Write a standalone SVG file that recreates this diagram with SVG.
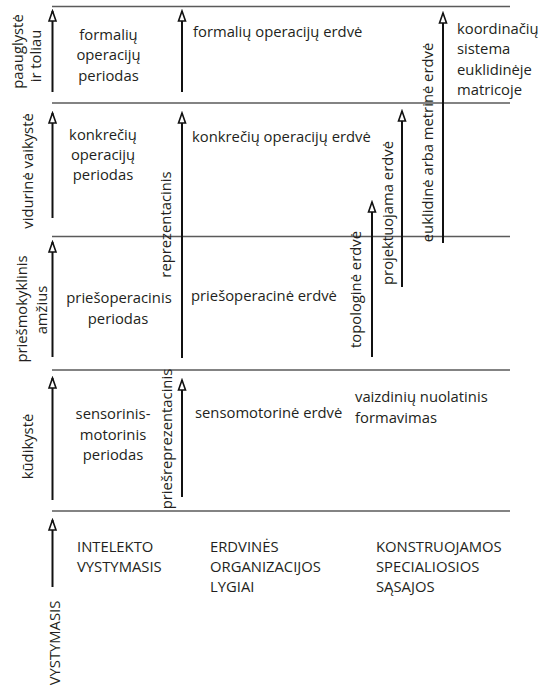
<svg xmlns="http://www.w3.org/2000/svg" width="540" height="688" viewBox="0 0 540 688">
<style>
text{font-family:"Open Sans","Noto Sans","Liberation Sans",sans-serif;font-size:14.8px;fill:#231f20}
.m{text-anchor:middle}
.sep{stroke:#5a5a5a;stroke-width:1.3;fill:none}
.ar{stroke:#111;stroke-width:2;fill:none;marker-end:url(#head)}
</style>
<defs>
<marker id="head" markerUnits="userSpaceOnUse" markerWidth="14" markerHeight="12" viewBox="-2 -6 14 12" refX="10" refY="0" orient="auto">
<path d="M0,-3.5 L10,0 L0,3.5 Z" fill="#fff" stroke="#111" stroke-width="1.6" stroke-linejoin="miter"/>
</marker>
</defs>
<rect width="540" height="688" fill="#fff"/>
<g id="separators">
<line class="sep" x1="52" y1="6.5" x2="510" y2="6.5"/>
<line class="sep" x1="52" y1="103" x2="510" y2="103"/>
<line class="sep" x1="52" y1="236.5" x2="510" y2="236.5"/>
<line class="sep" x1="52" y1="370" x2="510" y2="370"/>
<line class="sep" x1="52" y1="511" x2="510" y2="511"/>
</g>
<g id="connectors">
<line class="ar" x1="52.5" y1="92" x2="52.5" y2="11"/>
<line class="ar" x1="52.5" y1="218" x2="52.5" y2="113"/>
<line class="ar" x1="52.5" y1="357" x2="52.5" y2="242"/>
<line class="ar" x1="52.5" y1="500" x2="52.5" y2="378"/>
<line class="ar" x1="52.5" y1="587" x2="52.5" y2="520"/>
<line class="ar" x1="182" y1="92" x2="182" y2="11"/>
<line class="ar" x1="182" y1="358" x2="182" y2="113"/>
<line class="ar" x1="182" y1="497" x2="182" y2="380"/>
<line class="ar" x1="372" y1="357" x2="372" y2="202"/>
<line class="ar" x1="402" y1="287" x2="402" y2="111"/>
<line class="ar" x1="443" y1="243" x2="443" y2="13"/>
</g>
<g id="age-adolescence">
<text class="m" transform="translate(23,51.5) rotate(-90)">paauglystė</text>
<text class="m" transform="translate(41,56) rotate(-90)">ir toliau</text>
</g>
<g id="age-middle-childhood">
<text class="m" transform="translate(33,171) rotate(-90)">vidurinė vaikystė</text>
</g>
<g id="age-preschool">
<text class="m" transform="translate(27,309) rotate(-90)">priešmokyklinis</text>
<text class="m" transform="translate(47,310) rotate(-90)">amžius</text>
</g>
<g id="age-infancy">
<text class="m" transform="translate(33,446.5) rotate(-90)">kūdikystė</text>
</g>
<g id="axis-development">
<text class="m" transform="translate(60,643) rotate(-90)">VYSTYMASIS</text>
</g>
<g id="period-formal">
<text class="m" x="108.5" y="39.5">formalių</text>
<text class="m" x="108.5" y="60">operacijų</text>
<text class="m" x="108.5" y="80.5">periodas</text>
</g>
<g id="period-concrete">
<text class="m" x="103" y="139.5">konkrečių</text>
<text class="m" x="103" y="160">operacijų</text>
<text class="m" x="103" y="180">periodas</text>
</g>
<g id="period-preoperational">
<text class="m" x="119" y="303">priešoperacinis</text>
<text class="m" x="118" y="323.5">periodas</text>
</g>
<g id="period-sensorimotor">
<text class="m" x="113" y="419">sensorinis-</text>
<text class="m" x="113" y="439.5">motorinis</text>
<text class="m" x="113" y="460">periodas</text>
</g>
<g id="space-formal">
<text x="193" y="37">formalių operacijų erdvė</text>
</g>
<g id="space-concrete">
<text x="192" y="142">konkrečių operacijų erdvė</text>
</g>
<g id="space-preoperational">
<text x="191" y="301">priešoperacinė erdvė</text>
</g>
<g id="space-sensorimotor">
<text x="195" y="418">sensomotorinė erdvė</text>
</g>
<g id="representational">
<text class="m" transform="translate(171,224.5) rotate(-90)">reprezentacinis</text>
</g>
<g id="prerepresentational">
<text class="m" transform="translate(172,439) rotate(-90)">priešreprezentacinis</text>
</g>
<g id="topological">
<text class="m" transform="translate(361,289.5) rotate(-90)">topologinė erdvė</text>
</g>
<g id="projective">
<text class="m" transform="translate(392.5,213) rotate(-90)">projektuojama erdvė</text>
</g>
<g id="euclidean">
<text class="m" transform="translate(433,142.5) rotate(-90)">euklidinė arba metrinė erdvė</text>
</g>
<g id="coordinates">
<text x="457" y="33.5">koordinačių</text>
<text x="457" y="54">sistema</text>
<text x="457" y="74.5">euklidinėje</text>
<text x="457" y="95">matricoje</text>
</g>
<g id="images">
<text x="355" y="402">vaizdinių nuolatinis</text>
<text x="355" y="422.5">formavimas</text>
</g>
<g id="header-intellect">
<text x="77" y="552">INTELEKTO</text>
<text x="77" y="572">VYSTYMASIS</text>
</g>
<g id="header-space">
<text x="210" y="552">ERDVINĖS</text>
<text x="210" y="572">ORGANIZACIJOS</text>
<text x="210" y="592">LYGIAI</text>
</g>
<g id="header-links">
<text x="376" y="552">KONSTRUOJAMOS</text>
<text x="376" y="572">SPECIALIOSIOS</text>
<text x="376" y="592">SĄSAJOS</text>
</g>
</svg>
